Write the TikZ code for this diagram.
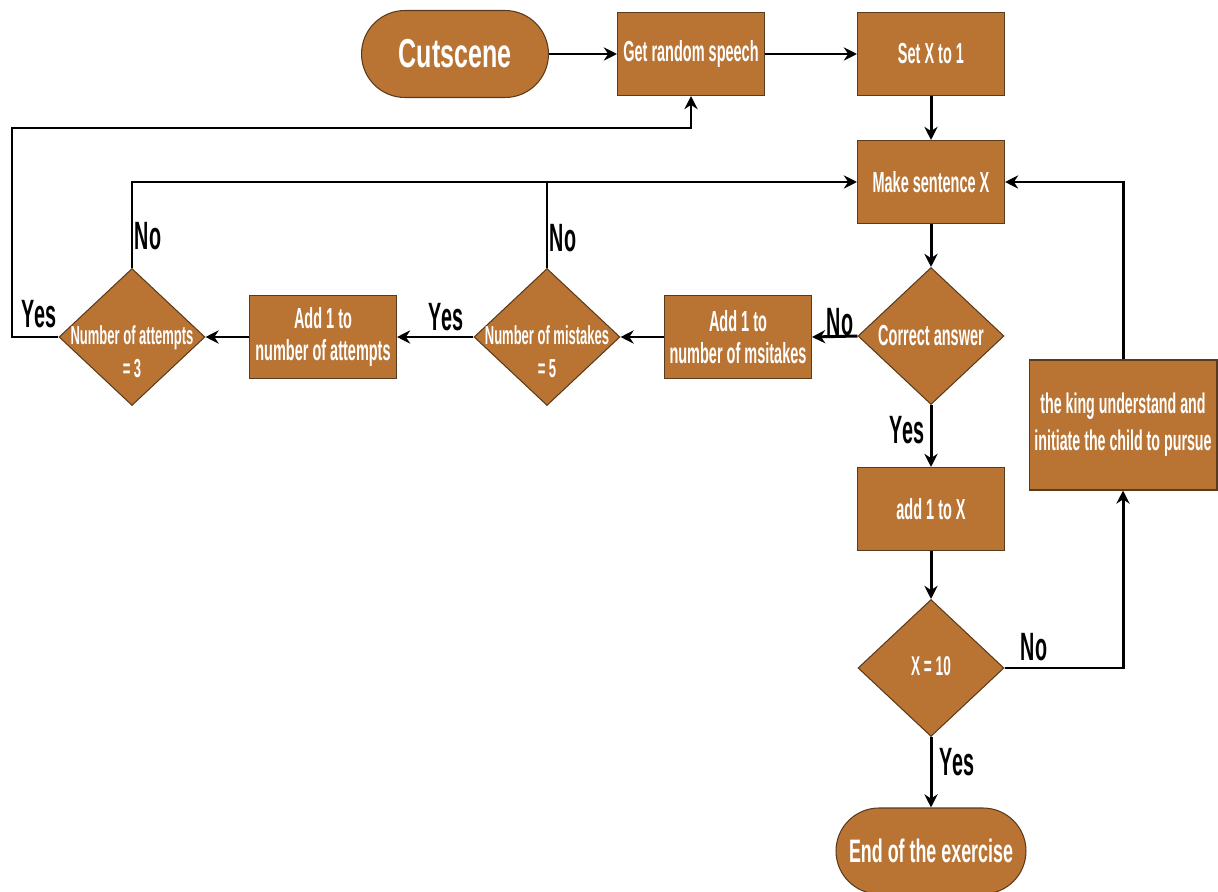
\documentclass[tikz,border=0pt]{standalone}
\usepackage{fontspec}
\newfontfamily\cf[FakeStretch=0.5]{Liberation Sans}
\newfontfamily\cfend[FakeStretch=0.55]{Liberation Sans}
\newfontfamily\cfbig[FakeStretch=0.62]{Liberation Sans}
\usetikzlibrary{shapes.geometric,shapes.misc,arrows.meta}
\definecolor{copper}{RGB}{185,116,52}
\definecolor{edgec}{RGB}{90,58,28}
\begin{document}
\begin{tikzpicture}[x=0.02cm,y=-0.02cm,
 box/.style={draw=edgec, line width=0.6pt, fill=copper, text=white,
   font={\cf\bfseries\fontsize{16.5}{18}\selectfont},
   minimum width=2.94cm, minimum height=1.66cm, inner sep=0pt, align=center},
 term/.style={rounded rectangle, draw=edgec, line width=0.6pt, fill=copper, text=white,
   inner sep=0pt, align=center},
 dia/.style={diamond, draw=edgec, line width=0.6pt, fill=copper,
   minimum width=2.92cm, minimum height=2.74cm, inner sep=0pt},
 dtext/.style={text=white, font={\cf\bfseries\fontsize{14.8}{19}\selectfont}, align=center, inner sep=0pt},
 lab/.style={font={\cf\bfseries\fontsize{22.5}{24}\selectfont}, text=black, inner sep=0pt},
 arr/.style={line width=1.7pt, -{Stealth[length=7.5pt,width=7.5pt]}},
 ln/.style={line width=1.7pt}
]
\useasboundingbox (0,0) rectangle (1218,892);

% nodes
\node[term, minimum width=3.74cm, minimum height=1.74cm,
  font={\cfbig\bfseries\fontsize{23}{26}\selectfont}] (cut) at (455,54) {Cutscene};
\node[box] (grs) at (691,54) {Get random speech};
\node[box] (setx) at (931,54) {Set X to 1};
\node[box] (make) at (931,182) {Make sentence X};
\node[dia] (corr) at (931,336) {};
\node[dtext, font={\cf\bfseries\fontsize{16.5}{18}\selectfont}] (corrT) at (931,336) {Correct answer};
\node[box] (addm) at (738,337) {Add 1 to\\number of msitakes};
\node[dia] (mist) at (547,337) {};
\node[dtext] (mistT) at (547,352) {Number of mistakes\\= 5};
\node[box] (adda) at (323,337) {Add 1 to\\number of attempts};
\node[dia] (att) at (132,337) {};
\node[dtext] (attT) at (132,352) {Number of attempts\\= 3};
\node[box] (addx) at (931,509) {add 1 to X};
\node[dia] (xten) at (931,668) {};
\node[dtext, font={\cf\bfseries\fontsize{15.5}{18}\selectfont}] (xtenT) at (931,666) {X = 10};
\node[term, minimum width=3.8cm, minimum height=1.72cm,
  font={\cfend\bfseries\fontsize{18.5}{22}\selectfont}] (endn) at (931,851) {End of the exercise};
\node[box, minimum width=3.76cm, minimum height=2.6cm,
  font={\cf\bfseries\fontsize{16.2}{21}\selectfont}] (king) at (1123,425)
  {the king understand and\\initiate the child to pursue};

% connectors
\coordinate (c1) at (12,128);
\draw[arr] (cut.east) -- (grs.west);
\draw[arr] (grs.east) -- (setx.west);
\draw[arr] (setx.south) -- (make.north);
\draw[arr] (make.south) -- (corr.north);
\draw[arr] (corr.west) -- (addm.east);
\draw[arr] (addm.west) -- (mist.east);
\draw[arr] (mist.west) -- (adda.east);
\draw[arr] (adda.west) -- (att.east);
\draw[arr] (att.west) -| (c1) -| (grs.south);
\draw[arr] (att.north) |- (make.west);
\draw[ln] (mist.north) -- (mist.north |- make.west);
\draw[arr] (corr.south) -- (addx.north);
\draw[arr] (addx.south) -- (xten.north);
\draw[arr] (xten.south) -- (endn.north);
\draw[arr] (xten.east) -| (king.south);
\draw[arr] (king.north) |- (make.east);

% labels
\node[lab] (l1) at (840,322) {No};
\node[lab] (l2) at (907,430) {Yes};
\node[lab] (l3) at (957,762) {Yes};
\node[lab] (l4) at (1034,647) {No};
\node[lab] (l5) at (446,317) {Yes};
\node[lab] (l6) at (39,314) {Yes};
\node[lab] (l7) at (148,236) {No};
\node[lab] (l8) at (563,238) {No};
\end{tikzpicture}
\end{document}
